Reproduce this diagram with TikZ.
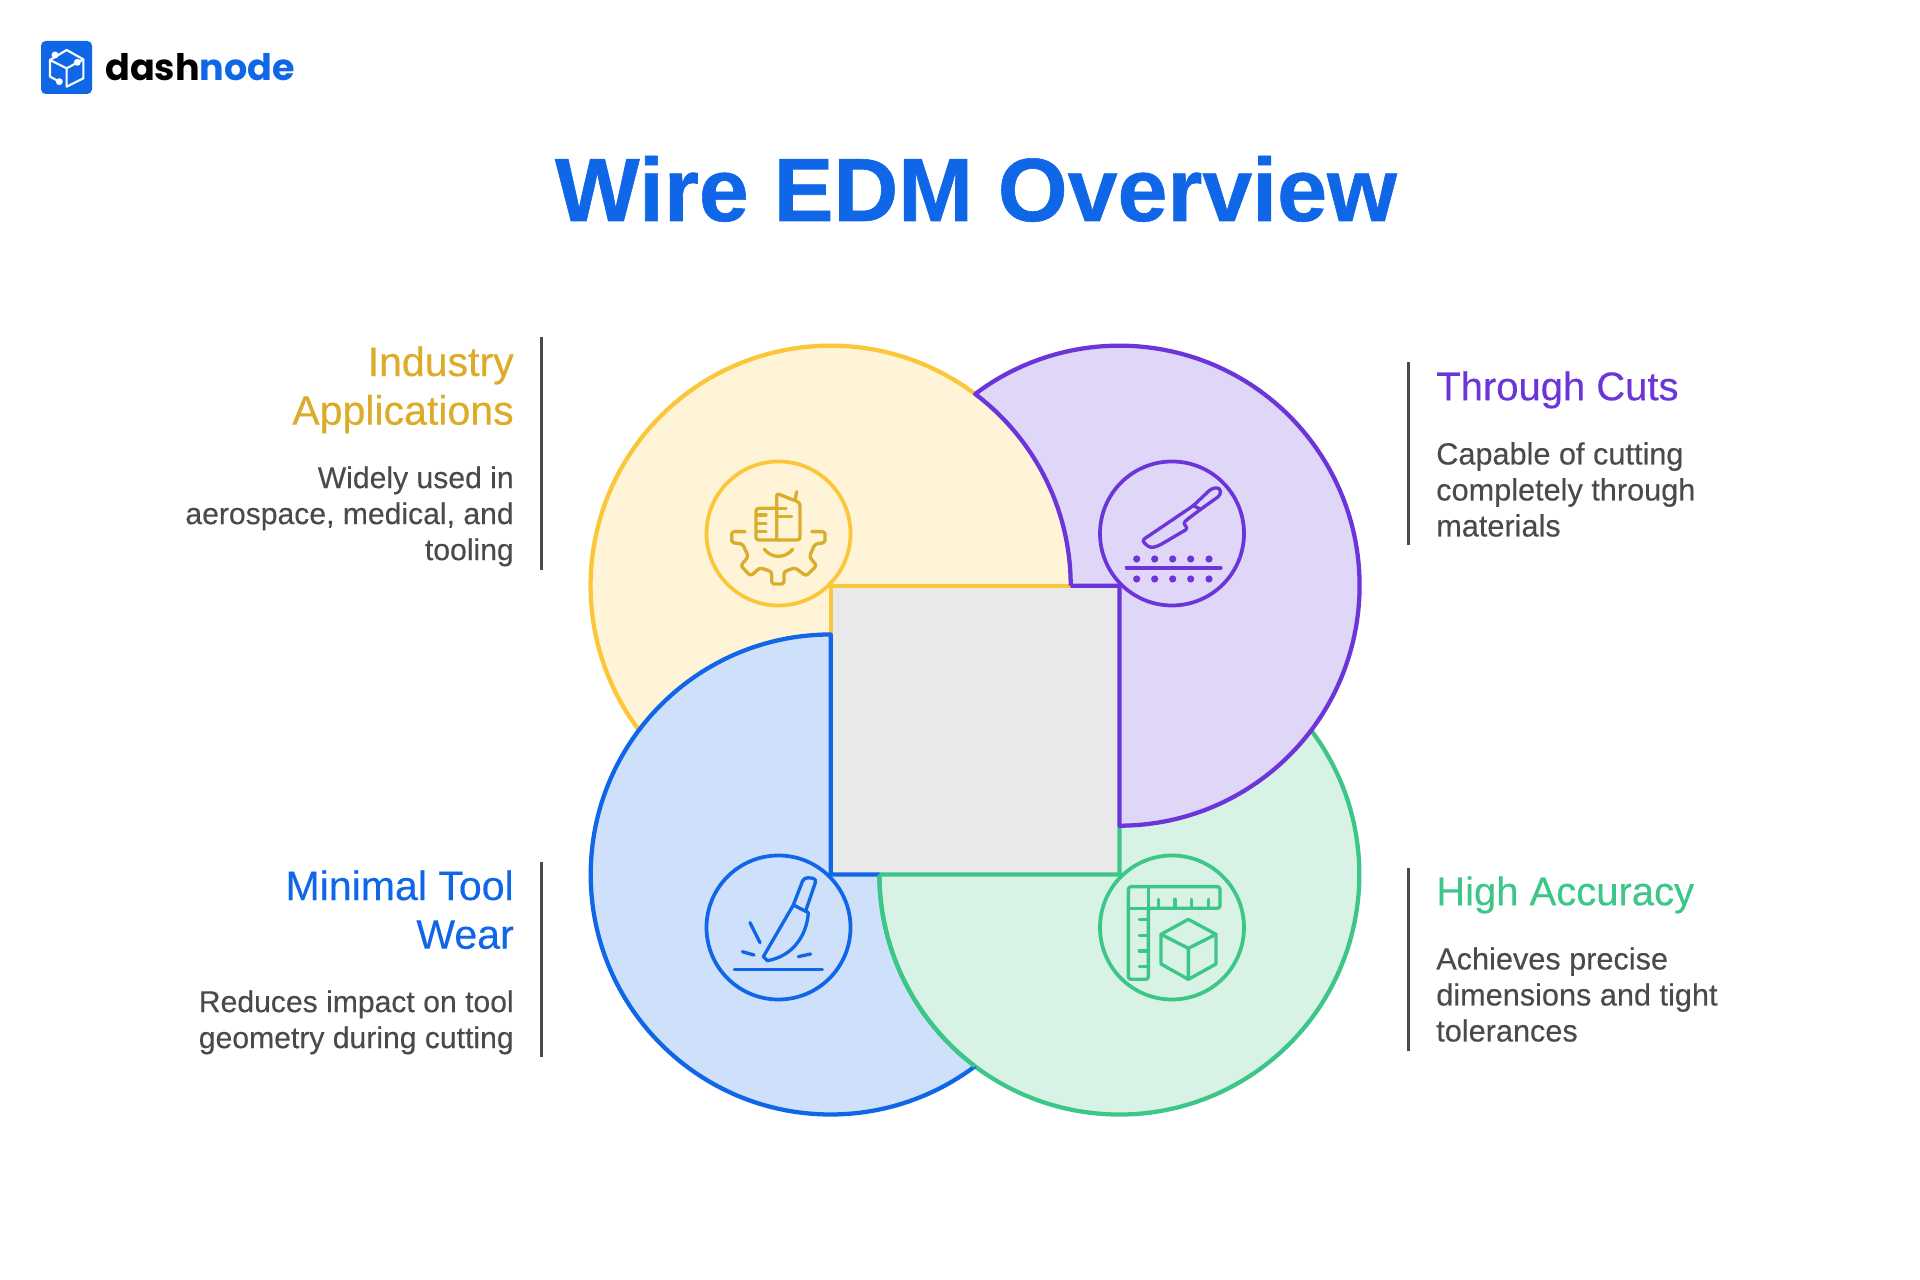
\documentclass[tikz,border=0pt]{standalone}
\usepackage{fontspec}
\setmainfont{Liberation Sans}[FakeBold=0.25]
\newfontfamily\titlefont{Liberation Sans}[BoldFeatures={FakeBold=0.7}]
\newfontfamily\logofont{Poppins}
\definecolor{ystroke}{HTML}{FBC638}\definecolor{yfill}{HTML}{FFF3D8}\definecolor{yicon}{HTML}{D9AE2C}\definecolor{yhead}{HTML}{DCAB27}
\definecolor{pstroke}{HTML}{6B35D9}\definecolor{pfill}{HTML}{E0D6F8}
\definecolor{bstroke}{HTML}{0F67E8}\definecolor{bfill}{HTML}{CFE0FA}
\definecolor{gstroke}{HTML}{3CC788}\definecolor{gfill}{HTML}{D8F3E5}
\definecolor{sq}{HTML}{E9E9E9}\definecolor{txt}{HTML}{4A4A4A}
\tikzset{
  x=.75pt,y=.75pt,
  edge/.style={line width=3.2pt,line join=round},
  ring/.style={line width=2.8pt},
  ico/.style={line width=2.5pt,line join=round,line cap=round},
  bar/.style={line width=2.8pt,draw=txt},
  headR/.style={anchor=north east,align=right,inner sep=0pt,font=\fontsize{30.8}{36.5}\selectfont},
  headL/.style={anchor=north west,align=left,inner sep=0pt,font=\fontsize{30}{36.5}\selectfont},
  descR/.style={anchor=north east,align=right,inner sep=0pt,text=txt,font=\fontsize{22.6}{27}\selectfont},
  descL/.style={anchor=north west,align=left,inner sep=0pt,text=txt,font=\fontsize{23}{27}\selectfont},
  zoomcoords/.style={x=.25pt,y=-.25pt},
}
\begin{document}
\begin{tikzpicture}
\useasboundingbox (0,0) rectangle (1920,1280);
\fill[white] (0,0) rectangle (1920,1280);
% region fills
\fill[yfill] (1070.7,694.3) arc[start angle=0,end angle=217,radius=240] arc[start angle=143,end angle=90,radius=240] -- (830.7,694.3) -- cycle;
\fill[pfill] (975,886) arc[start angle=127,end angle=-90,radius=240] -- (1119.4,694.3) -- (1070.7,694.3) arc[start angle=0,end angle=53,radius=240] -- cycle;
\fill[gfill] (1311,549.9) arc[start angle=37,end angle=-180,radius=240] -- (1119.4,405.5) -- (1119.4,454.3) arc[start angle=-90,end angle=-37,radius=240] -- cycle;
\fill[bfill] (830.7,645.5) arc[start angle=90,end angle=307,radius=240] arc[start angle=233,end angle=180,radius=240] -- (830.7,405.5) -- cycle;
\fill[sq] (830.7,405.5) rectangle (1119.4,694.3);
% region outlines
\draw[edge,ystroke] (975,886) arc[start angle=53,end angle=217,radius=240];
\draw[edge,ystroke] (830.7,645.5) -- (830.7,694.3) -- (1070.7,694.3);
\draw[edge,gstroke] (1311,549.9) arc[start angle=37,end angle=-180,radius=240] -- (1119.4,405.5) -- (1119.4,454.3);
\draw[edge,bstroke] (879.3,405.5) -- (830.7,405.5) -- (830.7,645.5) arc[start angle=90,end angle=307,radius=240];
\draw[edge,gstroke] (975,213.8) arc[start angle=233,end angle=180,radius=240];
\draw[edge,pstroke] (1070.7,694.3) arc[start angle=0,end angle=53,radius=240] arc[start angle=127,end angle=-90,radius=240] -- ++(0,240) -- (1070.7,694.3);
% icon rings
\node[circle,draw=ystroke,ring,minimum size=108pt,inner sep=0pt] (iconY) at (778.5,746.5) {};
\node[circle,draw=pstroke,ring,minimum size=108pt,inner sep=0pt] (iconP) at (1172,746.5) {};
\node[circle,draw=bstroke,ring,minimum size=108pt,inner sep=0pt] (iconB) at (778.5,352.5) {};
\node[circle,draw=gstroke,ring,minimum size=108pt,inner sep=0pt] (iconG) at (1172,352.5) {};
% yellow icon
\begin{scope}[shift={(680,840)},zoomcoords,ico,draw=yicon]
\draw[rounded corners=2pt] (290,205) -- (228,205) -- (228,300) -- (360,300) -- (360,188) -- (290,160) -- (290,300);
\draw (350,155) -- (345,180);
\draw (232,225) -- (258,225) (232,250) -- (258,250) (232,275) -- (258,275);
\draw (292,205) -- (318,205) (292,230) -- (335,230);
\draw (253,328) .. controls (275,356) and (315,356) .. (338,328);
\draw[rounded corners=2pt] (195,275) -- (155,275) -- (155,308) -- (188,312) -- (205,350) -- (182,377) -- (212,408) -- (240,383) -- (275,395) -- (275,432) -- (312,432) -- (312,395) -- (345,383) -- (378,408) -- (410,377) -- (388,350) -- (405,312) -- (435,308) -- (435,275) -- (395,275);
\end{scope}
% purple icon
\begin{scope}[shift={(1080,840)},zoomcoords,ico,draw=pstroke,fill=pstroke]
\draw[fill=none,rounded corners=2.5pt] (340,197) -- (395,145) -- (420,143) -- (422,165) -- (362,208) -- (330,232) -- (308,250) -- (325,265) -- (235,318) -- (210,324) -- (185,302) -- cycle;
\draw[fill=none] (340,197) -- (362,208);
\draw[line width=3pt] (140,383) -- (422,383);
\foreach \dx in {170,224,278,332,387} {
  \fill (\dx,357) circle[radius=2.7pt];
  \fill (\dx,417) circle[radius=2.7pt];
}
\end{scope}
% blue icon
\begin{scope}[shift={(680,440)},zoomcoords,ico,draw=bstroke]
\draw[rounded corners=3pt] (340,195) -- (372,112) -- (410,116) -- (378,210);
\draw (340,195) -- (385,218);
\draw (340,195) -- (250,350) -- (262,362) .. controls (335,350) and (380,290) .. (385,218);
\draw (210,248) -- (240,308) (187,335) -- (222,345) (355,350) -- (392,342);
\draw (163,388) -- (427,388);
\end{scope}
% green icon
\begin{scope}[shift={(1080,440)},zoomcoords,ico,draw=gstroke]
\draw[rounded corners=2pt] (145,140) -- (420,140) -- (420,205) -- (205,205) -- (205,418) -- (145,418) -- cycle;
\draw (145,205) -- (205,205) (205,140) -- (205,205);
\foreach \t in {235,285,335,385} \draw (\t,205) -- (\t,178);
\foreach \t in {238,287,333,380} \draw (205,\t) -- (178,\t);
\draw (325,238) -- (408,283) -- (408,372) -- (325,418) -- (243,372) -- (243,283) -- cycle;
\draw (243,283) -- (325,325) -- (408,283) (325,325) -- (325,418);
\end{scope}
% logo
\fill[bstroke,rounded corners=3.5pt] (41,1239) rectangle (92,1186);
\begin{scope}[shift={(0,1280)},zoomcoords,line width=1.6pt,draw=white,fill=white,line join=round,line cap=round]
\draw (200,150) -- (250,178) -- (250,235) -- (200,260) -- (200,205) -- (150,180) -- (150,230) -- (178,245);
\draw (150,180) -- (200,150) (200,205) -- (250,178);
\fill (165,165) circle[radius=2.6pt] (232,187) circle[radius=2.6pt] (178,245) circle[radius=2.6pt];
\end{scope}
\node[anchor=base west,inner sep=0pt,font=\logofont\bfseries\fontsize{27.4}{32}\selectfont] (logo) at (105,1199) {dash\textcolor{bstroke}{node}};
% title
\node[anchor=base,inner sep=0pt,text=bstroke,font=\titlefont\bfseries\fontsize{67.3}{72}\selectfont] (title) at (976,1059) {Wire EDM Overview};
% labels
\node[headR,text=yhead] (hY) at (514,934) {Industry\\Applications};
\node[descR] (dY) at (514,814) {Widely used in\\aerospace, medical, and\\tooling};
\node[headL,text=pstroke] (hP) at (1436,909) {Through Cuts};
\node[descL] (dP) at (1436,838) {Capable of cutting\\completely through\\materials};
\node[headR,text=bstroke] (hB) at (514,410) {Minimal Tool\\Wear};
\node[descR] (dB) at (514,290) {Reduces impact on tool\\geometry during cutting};
\node[headL,text=gstroke] (hG) at (1436,404) {High Accuracy};
\node[descL] (dG) at (1436,333) {Achieves precise\\dimensions and tight\\tolerances};
% bars
\coordinate (b1a) at (541.5,943); \coordinate (b1b) at (541.5,710);
\coordinate (b2a) at (1408.5,918); \coordinate (b2b) at (1408.5,735);
\coordinate (b3a) at (541.5,418); \coordinate (b3b) at (541.5,223);
\coordinate (b4a) at (1408.5,412); \coordinate (b4b) at (1408.5,229);
\draw[bar] (b1a) -- (b1b);
\draw[bar] (b2a) -- (b2b);
\draw[bar] (b3a) -- (b3b);
\draw[bar] (b4a) -- (b4b);
\end{tikzpicture}
\end{document}
